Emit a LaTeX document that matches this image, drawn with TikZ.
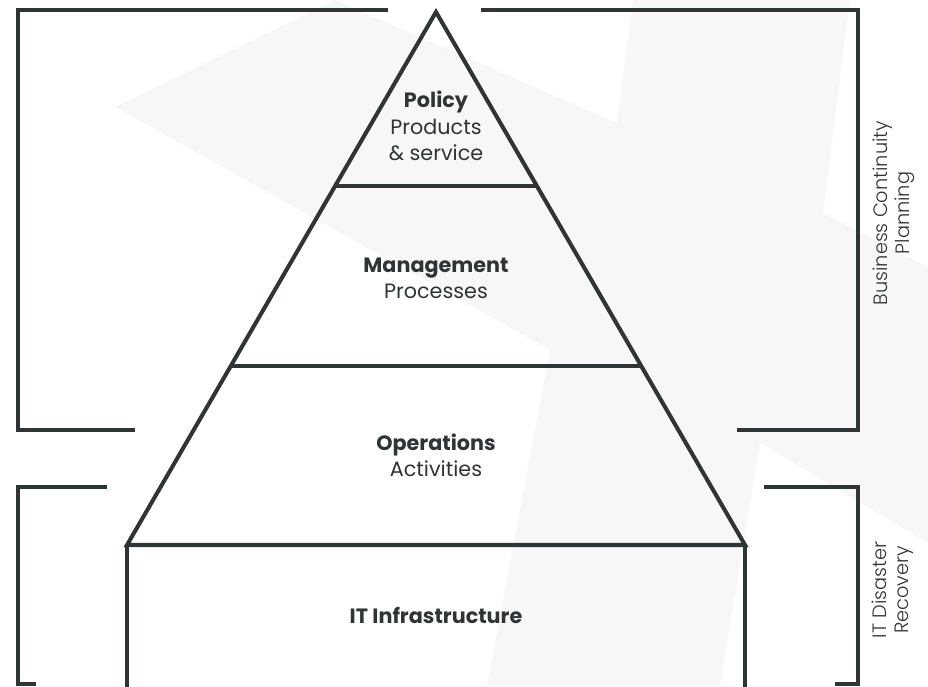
\documentclass[tikz,border=0pt]{standalone}
\usepackage{fontspec}
\setmainfont{Poppins}
\newfontfamily\thinfont{Poppins}[UprightFont=* Light]
\usepackage{tikz}
\usetikzlibrary{calc,positioning}
\definecolor{ink}{HTML}{2F3537}
\definecolor{logogray}{HTML}{F7F7F7}
\tikzset{
	frame/.style={draw=ink, line width=2.3pt},
	layer/.style={align=center, text=ink, font=\fontsize{11.8}{15}\selectfont},
	side/.style={align=center, text=ink, rotate=90, font=\thinfont\fontsize{11}{12.4}\selectfont}
    }

\begin{document}
\begin{tikzpicture}[x=0.02cm,y=-0.02cm]
\useasboundingbox (0,0) rectangle (928,686);

% faint background logo
\fill[logogray] (115,107) -- (335,0) -- (617,123) -- (633,0) -- (850,0) -- (823,213) -- (928,267)
	-- (928,543) -- (760,443) -- (720,686) -- (487,686) -- (550,350) -- cycle;

\coordinate (top) at (436,12);
\coordinate (bl) at (127,545);
\coordinate (br) at (745,545);

% pyramid
\draw[frame, line join=miter] (top) -- (br) -- (bl) -- cycle;
\draw[frame] ($(top)!.327!(bl)$) -- ($(top)!.327!(br)$);
\draw[frame] ($(top)!.664!(bl)$) -- ($(top)!.664!(br)$);
\draw[frame] (bl) -- (127,690);
\draw[frame] (br) -- (745,690);

% brackets
\draw[frame] (388,10) -- (18,10) -- (18,430) -- (135,430);
\draw[frame] (481,10) -- (858,10) -- (858,430) -- (737,430);
\draw[frame] (107,487) -- (18,487) -- (18,684) -- (36,684);
\draw[frame] (764,487) -- (858,487) -- (858,684) -- (835,684);

% labels
\node[layer] (policy) at (436,126) {\textbf{Policy}\\Products\\\& service};
\node[layer] (mgmt) at (436,278) {\textbf{Management}\\Processes};
\node[layer] (ops) at (436,455) {\textbf{Operations}\\Activities};
\node[layer] (infra) at (436,615) {\textbf{IT Infrastructure}};

\node[side] (bcp) at (894,213) {Business Continuity\\Planning};
\node[side] (itdr) at (893,590) {IT Disaster\\Recovery};

\end{tikzpicture}
\end{document}
